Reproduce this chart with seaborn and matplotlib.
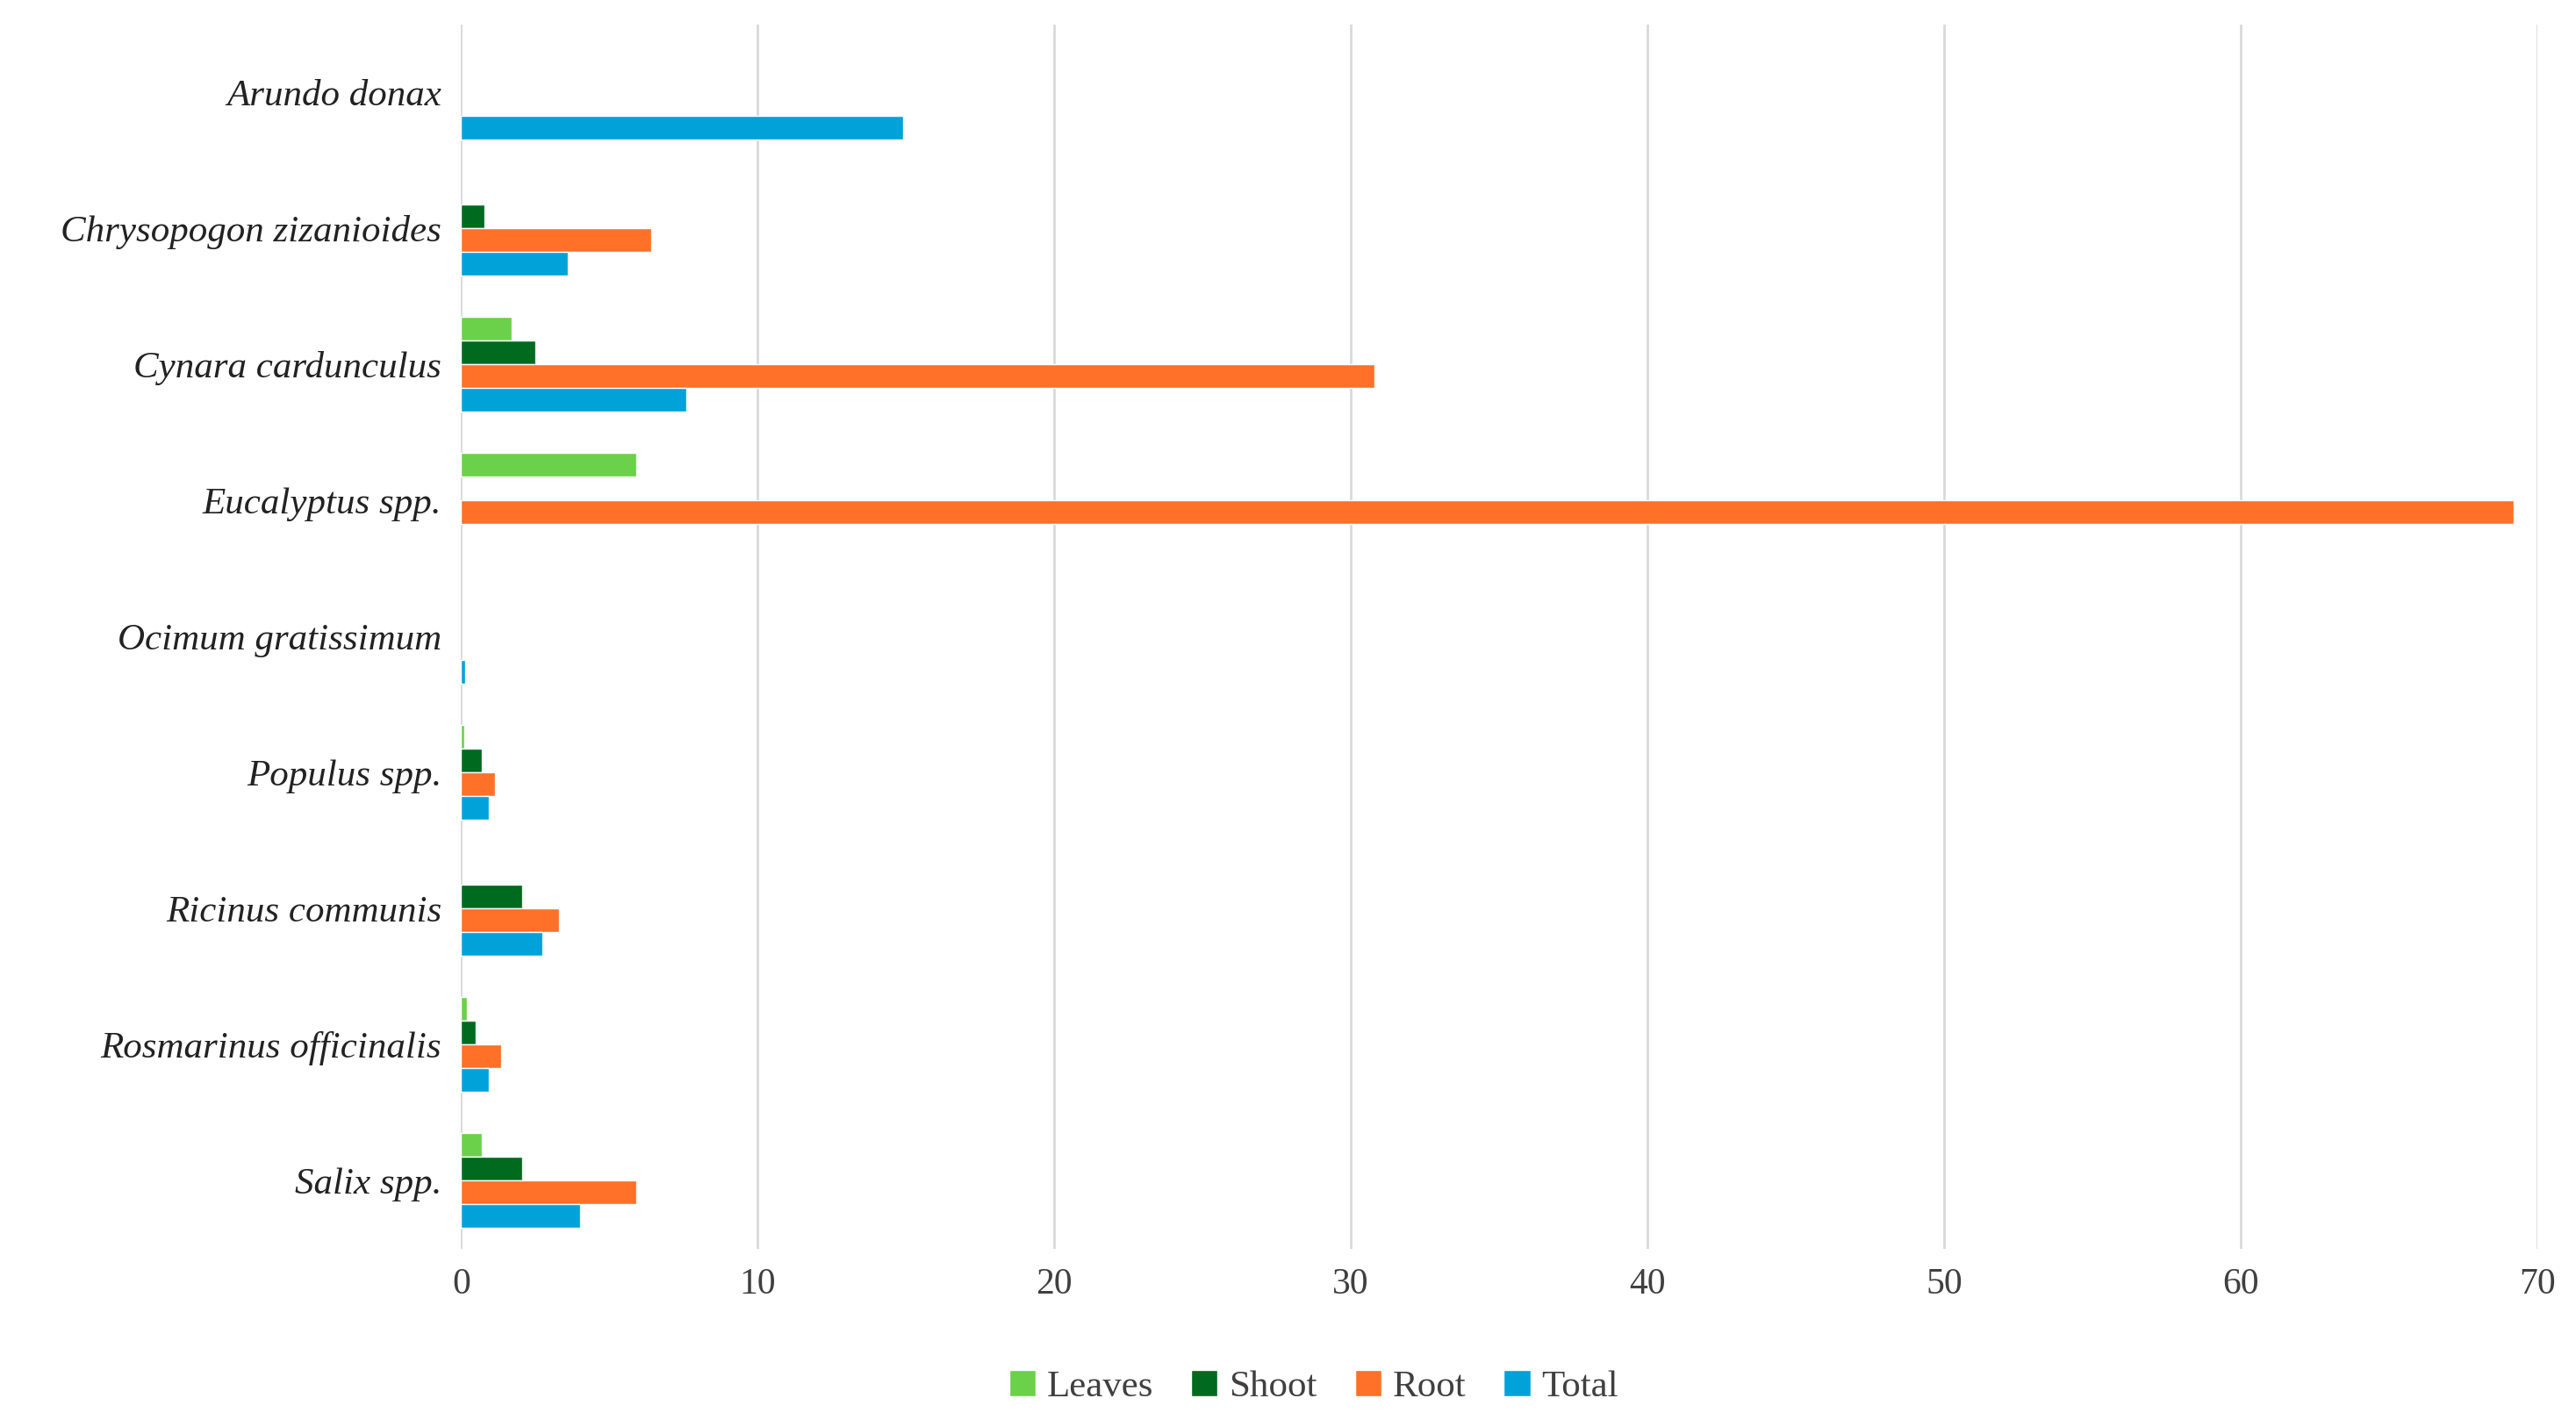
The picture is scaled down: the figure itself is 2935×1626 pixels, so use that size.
import numpy as np
import pandas as pd
import matplotlib
matplotlib.use("Agg")
import matplotlib.pyplot as plt
import seaborn as sns

species = ['Arundo donax', 'Chrysopogon zizanioides', 'Cynara cardunculus',
           'Eucalyptus spp.', 'Ocimum gratissimum', 'Populus spp.',
           'Ricinus communis', 'Rosmarinus officinalis', 'Salix spp.']
parts = ['Leaves', 'Shoot', 'Root', 'Total']
leaves = [np.nan, np.nan, 1.7, 5.9, np.nan, 0.1, np.nan, 0.2, 0.7]
shoot = [np.nan, 0.8, 2.5, np.nan, np.nan, 0.7, 2.05, 0.5, 2.05]
root = [np.nan, 6.4, 30.8, 69.2, np.nan, 1.15, 3.3, 1.35, 5.9]
total = [14.9, 3.6, 7.6, np.nan, 0.15, 0.95, 2.75, 0.95, 4.0]
colors = ['#6CD14A', '#006A1E', '#FF7028', '#00A2DA']

df = pd.DataFrame({'species': species, 'Leaves': leaves, 'Shoot': shoot,
                   'Root': root, 'Total': total})
long = df.melt(id_vars='species', var_name='part', value_name='value')

sns.set_style('white')
fig, ax = plt.subplots(figsize=(29.35, 16.26), dpi=100)
fig.subplots_adjust(left=0.179, right=0.985, top=0.983, bottom=0.125)

sns.barplot(data=long, y='species', x='value', hue='part', order=species,
            hue_order=parts, palette=colors, width=0.7, orient='h',
            saturation=1, ax=ax, legend=True)

ax.set_xlim(0, 70)
ax.set_xticks(range(0, 71, 10))
ax.grid(axis='x', color='#D9D9D9', linewidth=2)
ax.set_axisbelow(True)
for s in ax.spines.values():
    s.set_visible(False)
ax.set_xlabel('')
ax.set_ylabel('')
ax.tick_params(axis='both', length=0, pad=16)
for t in ax.get_xticklabels():
    t.set_fontfamily('Liberation Serif')
    t.set_fontsize(30)
    t.set_color('#404040')
for t in ax.get_yticklabels():
    t.set_fontfamily('Liberation Serif')
    t.set_fontstyle('italic')
    t.set_fontsize(31)
    t.set_color('#222222')

handles, labels = ax.get_legend_handles_labels()
ax.get_legend().remove()
fig.legend(handles, labels, loc='center', bbox_to_anchor=(0.51, 0.028), ncol=4,
           frameon=False, prop={'family': 'Liberation Serif', 'size': 31},
           handlelength=0.7, handleheight=0.7, handletextpad=0.3,
           columnspacing=1.0, labelcolor='#404040')

plt.savefig('out.png', dpi=100)
